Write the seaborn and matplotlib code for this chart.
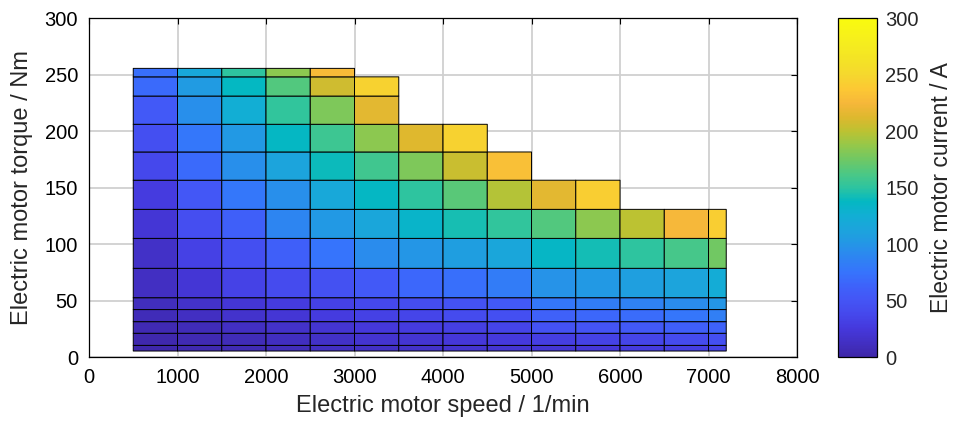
import matplotlib
matplotlib.use("Agg")
import matplotlib.pyplot as plt
import numpy as np
import seaborn as sns
from matplotlib.colors import LinearSegmentedColormap

# grid edges of the map
speed_edges = [500, 1000, 1500, 2000, 2500, 3000, 3500, 4000, 4500, 5000,
               5500, 6000, 6500, 7000, 7200]
torque_edges = [5.3, 10.3, 21, 31.3, 42, 52.5, 78.5, 105, 130.7, 156.5,
                181.5, 206, 231, 248, 255.5]

nan = np.nan
# current per cell, one list per speed column (bottom -> top row)
cur_500 = [2, 3, 5, 8, 10, 12, 15, 22, 28, 38, 45, 55, 68, 72]
cur_1000 = [4, 5, 8, 12, 16, 22, 32, 44, 52, 68, 78, 95, 105, 118]
cur_1500 = [6, 8, 12, 17, 22, 33, 45, 60, 78, 95, 103, 125, 138, 150]
cur_2000 = [9, 11, 16, 22, 27, 40, 60, 88, 95, 113, 137, 152, 165, 185]
cur_2500 = [12, 15, 20, 27, 32, 46, 76, 103, 118, 140, 157, 180, 207, 228]
cur_3000 = [14, 19, 25, 32, 38, 55, 93, 116, 136, 158, 185, 215, 245, nan]
cur_3500 = [16, 21, 28, 36, 43, 66, 100, 133, 150, 180, 213, nan, nan, nan]
cur_4000 = [19, 24, 31, 40, 48, 72, 107, 143, 167, 205, 245, nan, nan, nan]
cur_4500 = [21, 26, 35, 45, 55, 82, 115, 152, 198, 232, nan, nan, nan, nan]
cur_5000 = [22, 30, 48, 62, 78, 98, 135, 165, 215, nan, nan, nan, nan, nan]
cur_5500 = [24, 33, 50, 66, 83, 103, 142, 185, 242, nan, nan, nan, nan, nan]
cur_6000 = [27, 36, 55, 70, 86, 108, 150, 200, nan, nan, nan, nan, nan, nan]
cur_6500 = [30, 40, 60, 77, 93, 113, 160, 225, nan, nan, nan, nan, nan, nan]
cur_7000 = [33, 45, 63, 84, 100, 122, 175, 242, nan, nan, nan, nan, nan, nan]

columns = [cur_500, cur_1000, cur_1500, cur_2000, cur_2500, cur_3000, cur_3500,
           cur_4000, cur_4500, cur_5000, cur_5500, cur_6000, cur_6500, cur_7000]

x_ticks = list(range(0, 8001, 1000))
y_ticks = list(range(0, 301, 50))
c_ticks = list(range(0, 301, 50))

# parula-like colour ramp (0..300 A)
parula_hex = ["#3E26A8", "#4230C4", "#4538DC", "#4548EC", "#4455F5", "#3E62FA",
              "#3674FC", "#2E84F2", "#2496E6", "#1CA4DC", "#12AED4", "#04B8C2",
              "#2CC4A0", "#4CC884", "#70C864", "#94C84A", "#BCC232", "#DEB82E",
              "#F6B73A", "#FCC834", "#F5D72E", "#F4E226", "#F5EB20", "#F7F318",
              "#F9FB0E"]
parula = LinearSegmentedColormap.from_list("parula", parula_hex)

sns.set_theme(style="white")
plt.rcParams["font.family"] = ["Liberation Sans", "DejaVu Sans"]

current = np.ma.masked_invalid(np.array(columns, dtype=float).T)

fig = plt.figure(figsize=(9.55, 4.21), dpi=100)
ax = fig.add_axes([0.0932, 0.152, 0.7414, 0.805])
cax = fig.add_axes([0.8775, 0.152, 0.0408, 0.805])

ax.grid(True, color="#D0D0D0", linewidth=1.3)
ax.set_axisbelow(True)
# pcolor leaves out the masked cells (no edges above the torque limit)
mesh = ax.pcolor(speed_edges, torque_edges, current, cmap=parula,
                 vmin=0, vmax=300, edgecolors="black", linewidth=0.7,
                 zorder=2)

ax.set_xlim(0, 8000)
ax.set_ylim(0, 300)
ax.set_xticks(x_ticks)
ax.set_yticks(y_ticks)
ax.tick_params(direction="in", top=True, right=True, length=4, width=0.8,
               labelsize=14.5, colors="black", pad=8)
for s in ax.spines.values():
    s.set_visible(True)
    s.set_color("black")
    s.set_linewidth(0.9)
ax.set_xlabel("Electric motor speed / 1/min", fontsize=17, labelpad=6)
ax.set_ylabel("Electric motor torque / Nm", fontsize=17, labelpad=8)

cb = fig.colorbar(mesh, cax=cax)
cb.set_ticks(c_ticks)
cb.ax.tick_params(direction="in", length=4, width=0.8, labelsize=14.5, pad=6)
cb.outline.set_edgecolor("black")
cb.outline.set_linewidth(0.9)
cb.set_label("Electric motor current / A", fontsize=16.5, labelpad=8)

fig.savefig("out.png", dpi=100)
